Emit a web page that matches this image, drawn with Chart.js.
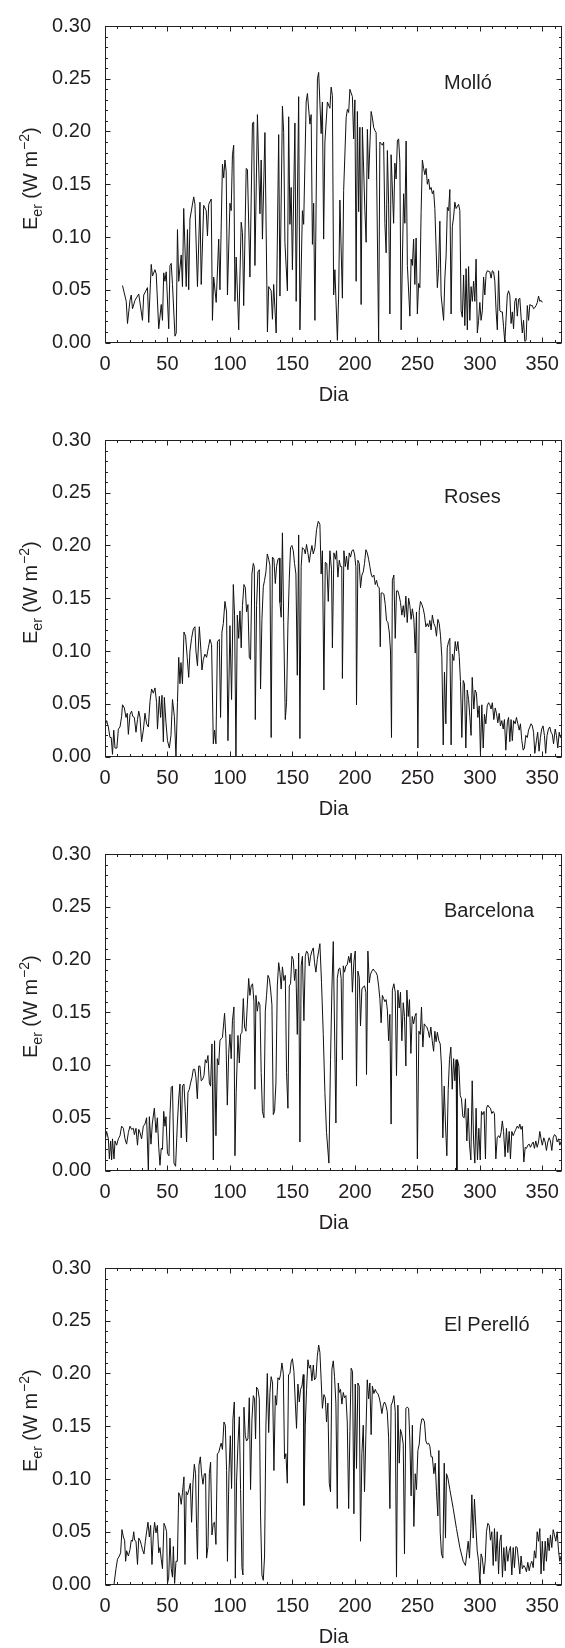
<!DOCTYPE html>
<html>
<head>
<meta charset="utf-8">
<script src="https://cdn.jsdelivr.net/npm/chart.js@4.4.1/dist/chart.umd.min.js"></script>
<style>
  html, body { margin: 0; padding: 0; background: #fff; }
  body { width: 565px; height: 1648px; position: relative; overflow: hidden; }
  canvas { position: absolute; left: 0; }
</style>
</head>
<body>
<canvas id="c0" width="565" height="414" style="top:0px"></canvas>
<canvas id="c1" width="565" height="414" style="top:414px"></canvas>
<canvas id="c2" width="565" height="414" style="top:828px"></canvas>
<canvas id="c3" width="565" height="414" style="top:1242px"></canvas>
<script>
// site names
var sites = ['Molló', 'Roses', 'Barcelona', 'El Perelló'];

// Molló
var molloDia = [
  14,17,18,20,21,22,24,27,30,31,
  34,35,37,38,40,41,43,45,46,47,
  48,49,51,52,53,54,56,57,58,59,
  61,62,63,65,66,67,68,71,72,74,
  76,77,79,81,82,83,85,86,87,89,
  91,92,94,95,96,97,98,100,101,102,
  103,104,105,107,109,110,111,113,114,116,
  118,119,120,122,124,125,126,128,130,131,
  133,134,135,137,139,140,142,143,144,146,
  147,148,149,150,152,153,155,156,158,159,
  161,162,164,165,166,167,168,170,171,173,
  174,175,176,178,180,181,182,183,184,186,
  187,188,190,191,193,194,195,196,198,199,
  200,201,202,203,204,205,206,208,209,210,
  211,213,214,215,216,217,219,220,222,223,
  224,225,226,227,228,229,231,232,233,234,
  235,236,237,239,240,241,242,244,245,246,
  247,248,249,250,251,252,253,254,255,256,
  257,258,259,260,261,262,263,264,266,267,
  268,269,271,272,273,274,275,276,277,278,
  279,280,281,283,284,285,286,287,288,289,
  290,291,292,293,294,295,296,297,298,299,
  300,301,302,303,304,305,306,308,309,310,
  311,312,313,314,315,316,317,318,319,320,
  322,323,324,325,326,327,328,329,330,331,
  332,333,334,335,336,337,338,339,340,341,
  342,343,344,345,346,347,348,349,350
];
var molloE = [
  .054,.039,.018,.040,.045,.032,.040,.046,.021,.045,
  .052,.019,.074,.063,.069,.065,.013,.036,.021,.066,
  .058,.067,.013,.073,.075,.055,.006,.009,.107,.058,
  .083,.053,.127,.053,.107,.050,.117,.138,.131,.053,
  .133,.055,.130,.125,.101,.131,.136,.021,.062,.038,
  .098,.050,.169,.156,.173,.162,.045,.132,.125,.178,
  .187,.039,.081,.012,.114,.104,.035,.165,.164,.062,
  .208,.209,.073,.216,.122,.173,.098,.199,.010,.053,
  .049,.022,.055,.009,.197,.044,.224,.199,.095,.049,
  .214,.112,.147,.069,.208,.039,.233,.012,.125,.112,
  .228,.236,.207,.216,.093,.132,.021,.250,.256,.198,
  .228,.098,.190,.228,.222,.242,.234,.045,.069,.002,
  .045,.135,.042,.144,.213,.221,.218,.240,.233,.193,
  .230,.058,.219,.124,.204,.036,.204,.125,.095,.202,
  .155,.219,.213,.204,.201,.199,.001,.190,.187,.190,
  .113,.085,.182,.131,.027,.178,.113,.170,.155,.191,
  .193,.171,.012,.141,.113,.191,.073,.025,.079,.073,
  .098,.055,.099,.027,.056,.052,.124,.173,.165,.159,
  .165,.150,.155,.145,.147,.141,.144,.127,.052,.070,
  .115,.045,.021,.061,.082,.128,.125,.145,.027,.110,
  .119,.133,.127,.131,.125,.030,.024,.064,.016,.070,
  .012,.072,.021,.053,.039,.058,.039,.079,.009,.021,
  .038,.021,.030,.062,.045,.065,.068,.067,.061,.068,
  .067,.058,.030,.012,.068,.030,.029,.029,.015,.000,
  .045,.049,.045,.018,.029,.013,.039,.042,.025,.041,
  .042,.024,.009,.021,.001,.002,.035,.021,.036,.035,
  .035,.032,.033,.035,.038,.044,.039,.040,.038
];

// Roses
var rosesDia = [
  0,1.3,2.7,4,5,6,7,8,9.5,10.7,
  12,13.3,14,15.5,16.8,17.8,18.7,20,21.3,22.2,
  23.5,24.8,26,27,28,29.3,30.7,32,33.3,34.7,
  36,37.3,38.7,40,41.3,42,43.5,44.5,45.6,46.7,
  47.5,48.8,50,51.5,52.8,54,55.5,56.8,58,59,
  60,60.8,62,63.2,64.5,65.8,67,68,69.3,70.7,
  72,72.8,74,75.5,76.8,77.6,78.7,80,81.3,82.7,
  84,85.3,86.7,87.7,88.8,90,91.5,92.5,93.6,94.7,
  96,97.3,98.4,100,101.3,102.7,103.7,104.8,105.9,107,
  108,109,110,111.2,112.3,113.3,114.4,115.5,116.5,117.6,
  118.7,119.5,120.3,121.3,122.4,123.5,124.5,125.6,126.7,127.7,
  128.8,129.9,131,132,133,134,135.2,136.3,137.3,138.4,
  139.5,140,141,142,143,144.3,145.3,146.4,147.5,148.5,
  149.6,150.7,151.7,152.8,153.9,155,156,157,158,159.5,
  160.3,161.3,162.4,163.5,164.5,165.6,166.7,168,169.3,170.7,
  172,173,174,175.2,176.3,177.5,178.7,180,181.3,182,
  183.2,184.5,185.3,186.4,187.5,188.5,189.5,190,191.2,192.3,
  193.3,194.4,195.5,196.5,197.6,198.7,199.7,200.8,201.3,202.4,
  203.5,204.5,205.6,206.7,207.7,208.8,209.9,211,212,213,
  214,215.2,216.3,217.3,218.4,219.5,220.3,221,222,223.2,
  224.3,225.3,226.4,227.5,228.5,229.3,230,231.2,232.3,233.3,
  234.4,235.5,236.5,237.6,238.7,239.7,240.8,241.9,243,244,
  245,246,247.2,248.3,249.3,250.4,251.5,252.5,253.6,254.7,
  255.7,256.8,257.9,259,260,261,262,263.2,264.3,265.3,
  266.4,267.5,268.5,269.6,270.7,271.7,272.8,273.9,275,276,
  277,278,279.2,280.3,281.3,282.4,283.5,284.5,285.6,286.7,
  287.7,288.8,289.9,291,292,293,293.9,295.2,296.2,297.3,
  298.4,299.5,300.5,301.6,302.7,303.7,304.8,305.9,307,308,
  309,310,311.2,312.3,313.3,314.4,315.5,316.5,317.6,318.7,
  319.7,320.8,322,323,324,325,326,327,328.3,329.3,
  330.4,331.5,332.5,333.6,334.7,335.7,336.8,338,339,340,
  341,342,343,344,345.3,346.3,347.4,348.5,349.5,350.6,
  351.7,352.7,353.8,354.9,356,357,358,359,360.3,361.3,
  362.4,363.5,364.5,365.6
];
var rosesE = [
  .029,.034,.028,.018,.018,.002,.025,.008,.008,.026,
  .028,.038,.049,.046,.037,.041,.021,.040,.043,.038,
  .037,.023,.035,.043,.037,.014,.025,.041,.031,.028,
  .052,.064,.060,.065,.051,.026,.057,.037,.058,.014,
  .056,.032,.015,.008,.020,.054,.038,.000,.051,.094,
  .069,.089,.069,.118,.114,.094,.075,.100,.112,.121,
  .123,.100,.086,.123,.100,.082,.092,.097,.094,.103,
  .111,.106,.012,.025,.012,.109,.111,.037,.118,.126,
  .147,.137,.015,.124,.054,.163,.134,.000,.134,.112,
  .138,.103,.143,.163,.160,.137,.144,.094,.092,.173,
  .183,.180,.035,.143,.175,.177,.064,.130,.161,.167,
  .175,.192,.187,.181,.018,.189,.187,.164,.180,.187,
  .188,.146,.132,.212,.127,.035,.051,.124,.169,.198,
  .200,.195,.183,.173,.077,.210,.017,.180,.198,.196,
  .192,.201,.193,.184,.193,.200,.192,.198,.215,.223,
  .220,.173,.195,.063,.184,.183,.147,.195,.177,.103,
  .193,.187,.195,.170,.186,.180,.180,.074,.195,.180,
  .190,.177,.193,.189,.195,.196,.192,.180,.049,.186,
  .183,.160,.172,.175,.183,.196,.193,.187,.180,.173,
  .170,.172,.163,.167,.161,.160,.104,.155,.155,.154,
  .144,.129,.127,.118,.100,.018,.167,.172,.112,.157,
  .157,.152,.146,.134,.143,.132,.152,.127,.150,.143,
  .130,.140,.130,.098,.137,.008,.138,.147,.144,.140,
  .134,.123,.126,.123,.129,.120,.134,.126,.123,.114,
  .130,.126,.115,.094,.011,.080,.031,.103,.109,.112,
  .011,.097,.091,.109,.100,.109,.095,.071,.018,.072,
  .069,.008,.063,.054,.038,.020,.075,.045,.063,.060,
  .037,.048,.002,.049,.008,.040,.031,.048,.051,.049,
  .045,.051,.035,.046,.041,.032,.041,.029,.034,.026,
  .035,.006,.032,.037,.014,.035,.015,.034,.031,.037,
  .031,.025,.031,.015,.006,.008,.020,.018,.025,.028,
  .031,.029,.023,.003,.015,.023,.005,.018,.026,.029,
  .020,.003,.020,.026,.028,.023,.021,.012,.026,.020,
  .008,.023,.018,.021
];

// Barcelona
var bcnDia = [
  0,1.3,2.7,3.5,4.5,5.3,6,7.2,8,9.3,
  10.7,12,13.3,14.7,16,17.3,18.7,20,21.3,22.7,
  23.5,24.8,26,27,28,29.3,30.7,32,33.3,34.7,
  35.5,36.8,37.9,39.5,40.8,41.9,43,44,45,46,
  47,48,48.8,50,51.2,52,53,54,55.2,56.5,
  57.9,59,60,61,62,63.2,64.3,65.3,66.4,67.5,
  68.5,69.6,70.7,71.8,72.8,73.9,75,76,77,78,
  79.2,80.3,81.3,82.4,83.5,84.5,85.6,86.7,87.7,88.8,
  89.9,91,92,93,94,95.7,96.8,97.9,99,100,
  101,102,103.2,104,105,106.4,107.5,108.5,109.6,110.7,
  111.7,112.8,113.9,115,116,117,118.1,119.2,120,120.8,
  121.9,122.9,124,125,126,127.2,128.3,129.3,130.4,131.5,
  132.5,133.6,134.7,135.7,136.8,137.9,139,140,141,142,
  143.2,144.3,145.3,146.4,147.5,148.5,149.6,150.7,151.7,152.8,
  153.9,155,156,157,158,159.2,160.3,161.3,162.4,163.5,
  164.5,165.6,166.7,167.7,168.8,169.9,171,172,173.3,174.7,
  176,177.3,179.2,180.5,181.6,182.7,183.7,184.8,185.9,187,
  188,189,190,190.7,191.7,192.8,193.9,195,196,197,
  198,199.2,200.3,201.3,202.4,203.5,204.5,205.6,206.7,207.7,
  208.8,209.3,210.4,211.5,212.5,213.6,214.7,215.7,216.8,217.9,
  219,220,221,222,223,224,225,226,227,228,
  229,230,231.2,232.3,233.3,234.4,235.5,236.5,237.6,238.7,
  239.7,240.8,241.6,242.7,243.7,244.8,245.9,247,248,249,
  250,251.2,252.3,253.3,254.4,255.5,256.5,257.6,258.7,259.7,
  260.8,261.9,263,264,265,266,267.2,268.3,269.3,270.4,
  271.5,272.5,273.6,274.7,275.7,276.8,277.9,279,280,281,
  281.6,282.1,283.2,284.3,285.3,286.4,287.5,288.5,289.6,290.7,
  291.7,292.8,293.9,295,296,297,298.1,299.2,300.3,301.3,
  302.4,303.4,304.5,305.3,306.4,307.4,308.5,309.6,310.7,311.7,
  312.8,313.9,315,316,317,318,319,320.2,321.3,322.4,
  323.5,324.5,325.6,326.7,327.7,328.8,329.9,331,332,333,
  334,335.2,336.3,337.3,338.4,339.5,340.5,341.6,342.7,343.7,
  344.8,345.9,347,348,349,350,351.2,352.3,353.3,354.4,
  355.5,356.5,357.6,358.7,359.7,360.8,361.9,363,364,365.3
];
var bcnE = [
  .028,.037,.030,.011,.028,.010,.030,.011,.028,.024,
  .030,.033,.042,.040,.030,.025,.036,.042,.039,.040,
  .034,.040,.024,.039,.036,.030,.042,.044,.050,.000,
  .051,.025,.045,.059,.036,.050,.022,.005,.021,.020,
  .056,.042,.051,.016,.014,.053,.079,.080,.007,.004,
  .044,.068,.082,.031,.080,.082,.056,.027,.074,.077,
  .083,.088,.096,.096,.088,.068,.099,.099,.085,.086,
  .090,.105,.102,.109,.083,.080,.120,.010,.123,.033,
  .106,.100,.123,.125,.126,.149,.125,.062,.111,.129,
  .106,.142,.155,.014,.074,.128,.102,.129,.131,.163,
  .136,.132,.157,.182,.166,.175,.177,.160,.077,.166,
  .151,.160,.157,.093,.056,.050,.151,.166,.185,.182,
  .172,.157,.053,.056,.083,.175,.197,.188,.172,.193,
  .180,.185,.093,.059,.175,.177,.203,.200,.180,.191,
  .129,.206,.027,.194,.203,.142,.203,.208,.206,.194,
  .203,.208,.211,.197,.188,.200,.208,.215,.178,.129,
  .074,.036,.007,.105,.172,.217,.136,.045,.182,.191,
  .192,.182,.105,.194,.188,.194,.195,.203,.197,.206,
  .169,.198,.208,.080,.189,.183,.137,.172,.174,.175,
  .169,.091,.208,.178,.186,.189,.191,.189,.188,.185,
  .175,.163,.140,.166,.163,.160,.162,.152,.123,.148,
  .044,.171,.177,.169,.090,.171,.154,.169,.123,.159,
  .146,.099,.171,.146,.162,.111,.146,.139,.146,.149,
  .011,.132,.129,.155,.117,.139,.137,.136,.132,.126,
  .136,.123,.113,.132,.122,.131,.123,.120,.099,.031,
  .080,.044,.014,.077,.105,.117,.077,.106,.085,.105,
  .000,.105,.099,.071,.068,.051,.050,.068,.028,.059,
  .025,.010,.085,.028,.007,.059,.010,.040,.010,.056,
  .053,.056,.011,.059,.062,.060,.059,.054,.056,.054,
  .011,.031,.033,.031,.036,.047,.037,.013,.040,.017,
  .037,.011,.037,.033,.036,.039,.042,.040,.044,.039,
  .042,.008,.022,.021,.024,.025,.022,.025,.027,.021,
  .028,.022,.027,.037,.030,.024,.031,.027,.019,.027,
  .031,.028,.019,.031,.034,.033,.027,.030,.024,.028
];

// El Perelló
var perelloDia = [
  7.2,8.8,10,11.5,12.5,13.6,14.7,15.7,16.5,17.3,
  18.7,20,21,22,23,23.7,24.8,26,27,28,
  29,30,31.2,32.3,33.3,34.4,35.5,36.5,37.6,38.7,
  39.7,40.8,41.9,43,44,45,46,47.2,48.3,49.3,
  50,51,52,53,54,54.7,55.7,56.8,57.9,59,
  60,61,62,63.2,64,65,66,67.2,68.3,69.3,
  70.4,71.5,72.5,73.3,74,75.2,76.3,77.3,78.4,79.5,
  80.5,81.3,82.4,83.5,84.5,85.6,86.7,87.7,88.8,89.9,
  91,92,93,94,95.2,96.3,97.3,98,99.2,100.3,
  101.3,102.4,103.5,104.3,105.3,106.4,107.5,108.5,109.6,110.4,
  111.2,112.3,113.3,114.4,115.5,116.5,117.6,118.7,119.7,120.5,
  121.3,122.4,123.5,124.5,125.6,126.7,127.7,128.8,129.9,131,
  132,133,134.1,135.2,136.3,137.3,138.4,139.5,140.5,141.6,
  142.7,143.7,144.8,145.9,146.9,148,149,150,151.2,152.3,
  153.3,154.4,155.5,156.5,157.6,158.7,159.2,160.3,161.3,162.4,
  163.5,164.5,165.6,166.7,167.7,168.8,169.9,171,172,173,
  174,175.2,176.3,177.3,178.4,179.5,180.5,181.6,182.7,183.7,
  184.8,185.9,186.7,187.5,188.5,189.6,190.7,191.7,192.8,193.9,
  195,196,197,198.1,199.2,200.3,201.3,202.4,203.5,204.5,
  205.6,206.7,207.7,208.8,209.9,211,212,213,214,215.2,
  216.3,217.3,218.4,219.5,220.5,221.6,222.7,223.7,224.8,225.9,
  227,228,229,230.1,231.2,232.3,233.3,234.4,235.5,236.5,
  237.6,238.7,239.7,240.8,241.9,243,244,245,246,247.2,
  248.3,249.3,250.4,251.5,252.5,253.6,254.7,255.7,256.8,257.9,
  259,260,261,262,263.2,264.3,265.3,266.4,267.2,268.3,
  269.3,270.4,271.5,272.5,273.3,274.4,276,278.7,281.3,284,
  286.7,288.5,289.6,290.7,291.7,292.8,293.6,294.7,295.7,296.8,
  297.9,299,300,301,302,303.2,304.3,305.3,306.4,307.5,
  308.5,309.6,310.7,311.7,312.8,313.9,315,316,317,318.1,
  319.2,320.3,321.3,322.4,323.5,324.5,325.6,326.7,327.7,328.8,
  329.9,331,332,333,334,335.2,336.3,337.3,338.4,339.5,
  340.5,341.6,342.7,343.7,344.8,345.9,347,348,349,350,
  351.2,352.3,353.3,354.4,355.5,356.5,357.6,358.7,359.7,360.8,
  361.9,363,364,365
];
var perelloE = [
  .000,.015,.024,.027,.030,.052,.045,.042,.022,.032,
  .027,.033,.042,.041,.050,.042,.041,.019,.044,.042,
  .038,.033,.029,.041,.050,.059,.045,.056,.019,.047,
  .059,.049,.056,.030,.035,.024,.015,.058,.055,.050,
  .001,.007,.044,.015,.007,.036,.001,.022,.022,.087,
  .084,.076,.087,.102,.019,.088,.085,.090,.096,.059,
  .096,.114,.105,.053,.024,.113,.121,.105,.095,.105,
  .105,.025,.036,.105,.116,.047,.058,.059,.038,.124,
  .125,.130,.134,.128,.154,.151,.108,.022,.105,.141,
  .091,.157,.173,.006,.098,.133,.159,.090,.016,.009,
  .168,.141,.136,.138,.177,.090,.156,.179,.176,.138,
  .187,.185,.176,.065,.009,.004,.027,.151,.200,.144,
  .182,.197,.191,.108,.179,.170,.196,.194,.199,.210,
  .200,.119,.124,.096,.199,.200,.211,.214,.202,.173,
  .148,.190,.173,.185,.188,.199,.075,.151,.185,.213,
  .205,.208,.193,.208,.194,.196,.216,.227,.220,.194,
  .167,.180,.177,.154,.172,.096,.088,.204,.212,.197,
  .172,.072,.191,.182,.185,.171,.182,.177,.179,.154,
  .072,.145,.205,.202,.067,.190,.110,.191,.188,.041,
  .124,.151,.088,.142,.194,.176,.191,.142,.188,.181,
  .185,.182,.181,.177,.171,.162,.170,.173,.170,.164,
  .139,.072,.170,.173,.179,.164,.007,.170,.115,.147,
  .142,.133,.029,.167,.168,.167,.136,.084,.151,.055,
  .105,.090,.127,.133,.150,.157,.157,.154,.136,.133,
  .134,.131,.121,.121,.105,.115,.088,.065,.127,.049,
  .029,.025,.115,.044,.105,.101,.090,.072,.053,.035,
  .022,.018,.030,.041,.025,.053,.085,.044,.081,.055,
  .032,.022,.001,.029,.025,.010,.022,.050,.058,.056,
  .042,.050,.018,.053,.022,.050,.010,.041,.047,.007,
  .035,.013,.036,.022,.032,.036,.009,.035,.016,.036,
  .035,.022,.010,.027,.015,.018,.016,.012,.021,.013,
  .019,.022,.016,.032,.025,.050,.041,.053,.010,.041,
  .013,.041,.022,.044,.032,.047,.035,.052,.047,.041,
  .050,.032,.022,.027
];

// axis ticks
var xTickStep = 10, xLabelStep = 50;
var yTickStep = 0.01;

Chart.defaults.font.family = '"Liberation Sans", Arial, Helvetica, sans-serif';
Chart.defaults.font.size = 20;
Chart.defaults.color = '#231f20';

var ink = '#231f20';

var framePlugin = {
  id: 'frame',
  afterDraw: function (chart) {
    var ctx = chart.ctx, a = chart.chartArea;
    var xs = chart.scales.x, ys = chart.scales.y;
    var L = Math.round(a.left) + 0.5, R = Math.round(a.right) - 0.5;
    var T = Math.round(a.top) + 0.5, B = Math.round(a.bottom) - 0.5;
    ctx.save();
    ctx.strokeStyle = ink;
    ctx.lineWidth = 1;
    ctx.strokeRect(L, T, R - L, B - T);
    ctx.beginPath();
    xs.ticks.forEach(function (t) {
      var px = Math.round(xs.getPixelForValue(t.value)) + 0.5;
      var len = (t.value % xLabelStep === 0) ? 5 : 2.5;
      ctx.moveTo(px, B); ctx.lineTo(px, B - len);
      ctx.moveTo(px, T); ctx.lineTo(px, T + len);
    });
    ys.ticks.forEach(function (t) {
      var py = Math.round(ys.getPixelForValue(t.value)) + 0.5;
      var len = (Math.round(t.value * 100) % 5 === 0) ? 5 : 2.5;
      ctx.moveTo(L, py); ctx.lineTo(L + len, py);
      ctx.moveTo(R, py); ctx.lineTo(R - len, py);
    });
    ctx.stroke();

    // site name
    ctx.fillStyle = ink;
    ctx.font = '20px "Liberation Sans", Arial, sans-serif';
    ctx.textAlign = 'left';
    ctx.textBaseline = 'alphabetic';
    ctx.fillText(chart.options.plugins.frame.site, 444, a.top + 63);

    // y axis title: E_er (W m^-2)
    ctx.translate(37, a.top + 204);
    ctx.rotate(-Math.PI / 2);
    var big = '20px "Liberation Sans", Arial, sans-serif';
    var small = '14px "Liberation Sans", Arial, sans-serif';
    var x = 0;
    ctx.font = big; ctx.fillText('E', x, 0); x += ctx.measureText('E').width;
    ctx.font = small; ctx.fillText('er', x, 5); x += ctx.measureText('er').width;
    ctx.font = big; ctx.fillText(' (W m', x, 0); x += ctx.measureText(' (W m').width;
    ctx.font = small; ctx.fillText('\u22122', x + 1, -8); x += ctx.measureText('\u22122').width + 1;
    ctx.font = big; ctx.fillText(')', x, 0);
    ctx.restore();
  }
};

function makeChart(id, site, dias, vals) {
  var points = dias.map(function (d, i) { return { x: d, y: vals[i] }; });
  return new Chart(document.getElementById(id), {
    type: 'line',
    data: {
      datasets: [{
        data: points,
        borderColor: '#111',
        borderWidth: 1,
        pointRadius: 0,
        tension: 0,
        fill: false
      }]
    },
    options: {
      responsive: false,
      animation: false,
      devicePixelRatio: 1,
      layout: { padding: { top: 17, right: 2.7, bottom: 0, left: 0 } },
      plugins: {
        legend: { display: false },
        tooltip: { enabled: false },
        frame: { site: site }
      },
      scales: {
        x: {
          type: 'linear',
          min: 0,
          max: 366,
          grid: { display: false, drawTicks: false },
          border: { display: false },
          ticks: {
            stepSize: xTickStep,
            includeBounds: false,
            autoSkip: false,
            maxRotation: 0,
            padding: 10,
            color: ink,
            callback: function (v) { return v % xLabelStep === 0 ? String(v) : ''; }
          },
          title: { display: true, text: 'Dia', color: ink, font: { size: 20 }, padding: { top: 0, bottom: 7 } },
          afterFit: function (s) { s.height = 71.5; }
        },
        y: {
          min: 0,
          max: 0.30,
          grid: { display: false, drawTicks: false },
          border: { display: false },
          ticks: {
            stepSize: yTickStep,
            autoSkip: false,
            padding: 14,
            color: ink,
            callback: function (v) {
              var k = Math.round(v * 100);
              return k % 5 === 0 ? (k / 100).toFixed(2) : '';
            }
          },
          afterFit: function (s) { s.width = 105; }
        }
      }
    },
    plugins: [framePlugin]
  });
}

makeChart('c0', sites[0], molloDia, molloE);
makeChart('c1', sites[1], rosesDia, rosesE);
makeChart('c2', sites[2], bcnDia, bcnE);
makeChart('c3', sites[3], perelloDia, perelloE);
</script>
</body>
</html>
